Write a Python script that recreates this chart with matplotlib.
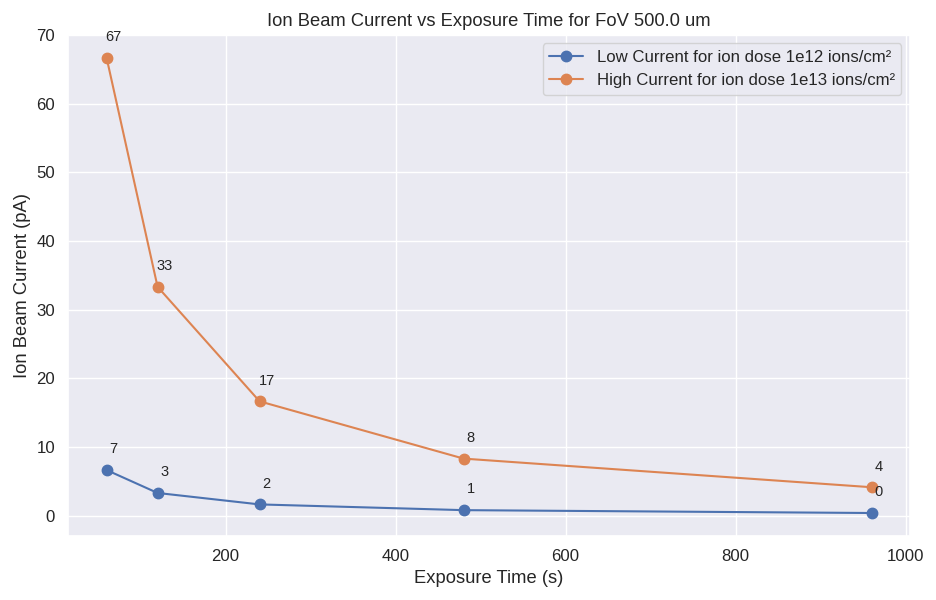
import numpy as np
import matplotlib
matplotlib.use("Agg")
import matplotlib.pyplot as plt
import seaborn as sns

exposure_s = [60, 120, 240, 480, 960]
low_current = [6.667, 3.333, 1.667, 0.833, 0.417]
high_current = [66.667, 33.333, 16.667, 8.333, 4.167]
low_label = "Low Current for ion dose 1e12 ions/cm²"
high_label = "High Current for ion dose 1e13 ions/cm²"

sns.set_theme(style="darkgrid", font_scale=1.1)
plt.rcParams['font.family'] = ['Arial', 'Liberation Sans', 'DejaVu Sans']

fig, ax = plt.subplots(figsize=(9.36, 6), dpi=100)
ax.plot(exposure_s, low_current, marker="o", markersize=7.5, label=low_label)
ax.plot(exposure_s, high_current, marker="o", markersize=7.5, label=high_label)

for ys in (low_current, high_current):
    for x, y in zip(exposure_s, ys):
        ax.annotate(f"{y:.0f}", (x, y), textcoords="offset points", xytext=(5, 12),
                    ha="center", fontsize=10.5)

ax.set_ylim(-2.9, 70.0)
ax.set_title("Ion Beam Current vs Exposure Time for FoV 500.0 um")
ax.set_xlabel("Exposure Time (s)")
ax.set_ylabel("Ion Beam Current (pA)")
ax.legend(loc="upper right")
fig.subplots_adjust(left=0.073, right=0.972, top=0.942, bottom=0.107)
fig.savefig("out.png", dpi=100)
